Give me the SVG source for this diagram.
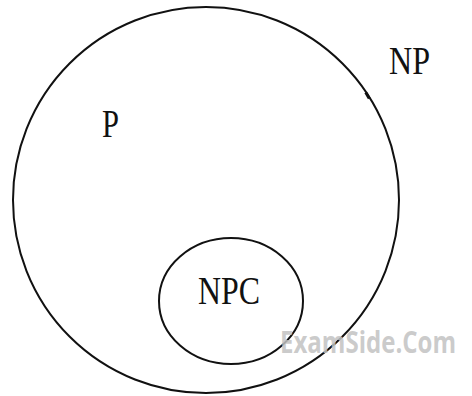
<svg xmlns="http://www.w3.org/2000/svg" width="472" height="396" viewBox="0 0 472 396">
<style>
.set{fill:none;stroke:#111;stroke-width:2}
.lbl{font-family:"Liberation Serif","Times New Roman",serif;font-size:40px;fill:#111}
.wm{font-family:"Open Sans","DejaVu Sans",sans-serif;font-weight:bold;font-size:30px;fill:#c2c2c2;fill-opacity:0.85}
</style>
<rect width="472" height="396" fill="#fff"/>
<g id="NP">
<circle class="set" cx="206" cy="200" r="193"/>
<rect x="366" y="92" width="3" height="7" fill="#111" transform="rotate(-30 367.5 95.5)"/>
<text class="lbl" x="389" y="74" textLength="41" lengthAdjust="spacingAndGlyphs">NP</text>
</g>
<g id="P">
<text class="lbl" x="102" y="137" textLength="17" lengthAdjust="spacingAndGlyphs">P</text>
</g>
<g id="NPC">
<ellipse class="set" cx="231" cy="301" rx="72" ry="63"/>
<text class="lbl" x="198" y="304" textLength="62" lengthAdjust="spacingAndGlyphs">NPC</text>
</g>
<g id="connectors"></g>
<text class="wm" x="280" y="353" textLength="176" lengthAdjust="spacingAndGlyphs">ExamSide.Com</text>
</svg>
